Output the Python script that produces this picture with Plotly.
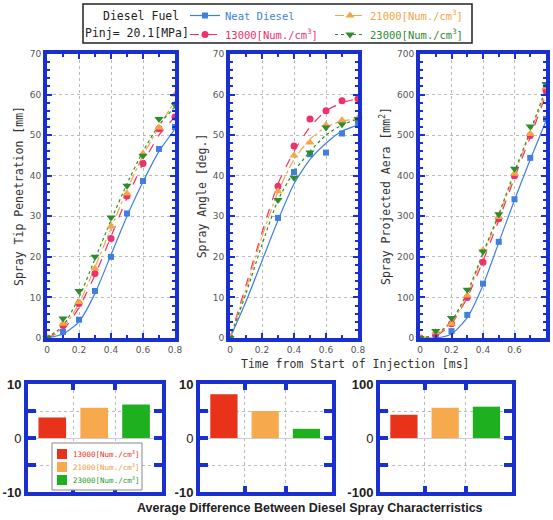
import plotly.graph_objects as go

# ---------------- data ----------------
times = [0, 0.1, 0.2, 0.3, 0.4, 0.5, 0.6, 0.7, 0.8]

series_names = ["Neat Diesel", "13000[Num./cm<sup>3</sup>]", "21000[Num./cm<sup>3</sup>]", "23000[Num./cm<sup>3</sup>]"]

# Spray tip penetration [mm]
pen_neat = [0, 1.5, 4.5, 11.6, 20.0, 30.7, 38.7, 46.6, 52.0]
pen_13000 = [0, 3.1, 8.5, 15.9, 24.5, 35.0, 43.0, 51.6, 54.5]
pen_21000 = [0, 3.5, 8.9, 17.1, 27.5, 35.6, 45.5, 51.9, 60.0]
pen_23000 = [0, 4.8, 11.6, 20.0, 29.7, 37.5, 44.9, 54.0, 57.5]
pen_fit_neat = [0, 1.0, 4.0, 11.0, 20.5, 30.0, 38.5, 46.0, 51.5]
pen_fit_13000 = [0, 2.0, 7.5, 15.5, 25.0, 34.5, 43.0, 50.0, 54.5]
pen_fit_21000 = [0, 2.5, 8.5, 17.5, 27.0, 36.5, 45.0, 52.0, 58.5]
pen_fit_23000 = [0, 3.0, 10.0, 19.5, 29.0, 38.0, 46.0, 52.5, 57.0]

# Spray angle [deg.]
angle_times = [0, 0.3, 0.4, 0.5, 0.6, 0.7, 0.8]
ang_neat = [0, 29.6, 40.9, 45.3, 45.7, 50.4, 53.0]
ang_13000 = [0, 37.4, 47.3, 54.0, 56.0, 58.5, 59.0]
ang_21000 = [0, 36.2, 45.0, 48.2, 52.5, 53.7, 54.2]
ang_23000 = [0, 34.0, 39.5, 45.7, 51.9, 52.7, 54.0]
ang_fit_neat = [0, 9, 19, 29, 38, 44, 48, 51, 52.5]
ang_fit_13000 = [0, 13, 26, 38, 46, 52, 56, 58, 59]
ang_fit_21000 = [0, 12, 25, 36, 44, 49, 52, 53.5, 54]
ang_fit_23000 = [0, 11, 23, 34, 41, 46, 50, 52.5, 54]

# Spray projected area [mm2]
area_neat = [0, 2, 17, 57, 134, 237, 342, 444, 540]
area_13000 = [0, 10, 35, 100, 187, 294, 400, 499, 610]
area_21000 = [0, 15, 35, 105, 216, 298, 405, 503, 618]
area_23000 = [0, 17, 49, 119, 213, 305, 417, 521, 626]
area_fit_neat = [0, 0, 10, 50, 130, 235, 340, 440, 535]
area_fit_13000 = [0, 5, 35, 100, 190, 290, 395, 495, 600]
area_fit_21000 = [0, 7, 38, 105, 205, 300, 405, 505, 605]
area_fit_23000 = [0, 8, 42, 112, 210, 305, 410, 510, 615]

# Average differences (bars)
bar_labels = ["13000[Num./cm<sup>3</sup>]", "21000[Num./cm<sup>3</sup>]", "23000[Num./cm<sup>3</sup>]"]
diff_pen = [3.8, 5.6, 6.2]
diff_ang = [8.1, 5.0, 1.7]
diff_area = [43, 56, 58]

# ---------------- styles ----------------
C_BLUE = "#3f7fe0"
C_RED = "#f0306a"
C_ORANGE = "#f6a545"
C_GREEN = "#2e8b2e"
BAR_COLORS = ["#e8321a", "#f7a94e", "#1fb01f"]
BAR_TEXT = ["#e8321a", "#f09a3a", "#1f9a1f"]
BORDER = "#1a2fd0"
MONO = "DejaVu Sans Mono"

marker_styles = [
    dict(symbol="square", color=C_BLUE, size=6),
    dict(symbol="circle", color=C_RED, size=7),
    dict(symbol="triangle-up", color=C_ORANGE, size=8),
    dict(symbol="triangle-down", color=C_GREEN, size=8),
]
line_styles = [
    dict(color=C_BLUE, width=1.2, dash="solid"),
    dict(color=C_RED, width=1.2, dash="dash"),
    dict(color=C_ORANGE, width=1.2, dash="dashdot"),
    dict(color=C_GREEN, width=1.2, dash="dot"),
]
text_colors = [C_BLUE, C_RED, C_ORANGE, C_GREEN]

fig = go.Figure()

panels = [
    ("x", "y", times, [pen_neat, pen_13000, pen_21000, pen_23000],
     [pen_fit_neat, pen_fit_13000, pen_fit_21000, pen_fit_23000]),
    ("x2", "y2", angle_times, [ang_neat, ang_13000, ang_21000, ang_23000],
     [ang_fit_neat, ang_fit_13000, ang_fit_21000, ang_fit_23000]),
    ("x3", "y3", times, [area_neat, area_13000, area_21000, area_23000],
     [area_fit_neat, area_fit_13000, area_fit_21000, area_fit_23000]),
]

for xa, ya, xs, ser, fits in panels:
    for i in range(4):
        fig.add_trace(go.Scatter(x=times, y=fits[i], xaxis=xa, yaxis=ya, mode="lines",
                                 line=dict(shape="spline", smoothing=0.6, **line_styles[i]),
                                 showlegend=False, hoverinfo="skip"))
    for i in range(4):
        fig.add_trace(go.Scatter(x=xs, y=ser[i], xaxis=xa, yaxis=ya, mode="markers",
                                 marker=marker_styles[i], showlegend=False, cliponaxis=False))

# legend-only entries: column 1 (Neat, 13000) in "legend", column 2 (21000, 23000) in "legend2"
for i, lg in [(0, "legend"), (1, "legend"), (2, "legend2"), (3, "legend2")]:
    fig.add_trace(go.Scatter(x=[None], y=[None], xaxis="x", yaxis="y", mode="lines+markers",
                             marker=marker_styles[i], line=line_styles[i],
                             name=f"<span style='color:{text_colors[i]}'>{series_names[i]}</span>",
                             legend=lg, showlegend=True))

# bars
bar_panels = [("x4", "y4", diff_pen), ("x5", "y5", diff_ang), ("x6", "y6", diff_area)]
for k, (xa, ya, vals) in enumerate(bar_panels):
    for i in range(3):
        fig.add_trace(go.Bar(x=[i + 1], y=[vals[i]], xaxis=xa, yaxis=ya, width=0.66,
                             marker=dict(color=BAR_COLORS[i], line=dict(width=0)),
                             name=bar_labels[i], showlegend=False))

W, H = 553, 520
def fx(a, b):
    return [a / W, b / W]
def fy(top, bottom):
    return [1 - bottom / H, 1 - top / H]
def px(v):
    return v / W
def py(v):
    return 1 - v / H

tick_font = dict(family="DejaVu Sans", size=9, color="#555555")
title_font = dict(family=MONO, size=11.5, color="#333333")

def top_axes(dom_x, dom_y, yrange, ydtick, ytitle, yminor):
    xa = dict(domain=dom_x, range=[0, 0.8], tickvals=[0, 0.2, 0.4, 0.6, 0.8],
              ticktext=["0", "0.2", "0.4", "0.6", "0.8"],
              showgrid=True, gridcolor="#bbbbbb", griddash="dot", gridwidth=1,
              showline=True, linecolor=BORDER, linewidth=4, mirror="allticks",
              ticks="inside", ticklen=5, tickwidth=2, tickcolor=BORDER,
              minor=dict(ticks="inside", ticklen=3, tickcolor=BORDER, dtick=0.1, showgrid=False),
              tickfont=tick_font, zeroline=False, automargin=False)
    ya = dict(domain=dom_y, range=yrange, dtick=ydtick,
              showgrid=True, gridcolor="#bbbbbb", griddash="dot", gridwidth=1,
              showline=True, linecolor=BORDER, linewidth=4, mirror="allticks",
              ticks="inside", ticklen=5, tickwidth=2, tickcolor=BORDER,
              minor=dict(ticks="inside", ticklen=3, tickcolor=BORDER, dtick=yminor, showgrid=False),
              tickfont=tick_font, zeroline=False, automargin=False,
              title=dict(text=ytitle, font=title_font, standoff=5))
    return xa, ya

xa1, ya1 = top_axes(fx(47, 175), fy(54, 338), [0, 70], 10, "Spray Tip Penetration [mm]", 2)
xa2, ya2 = top_axes(fx(230, 358), fy(54, 338), [0, 70], 10, "Spray Angle [deg.]", 2)
xa3, ya3 = top_axes(fx(420, 546), fy(54, 338), [0, 700], 100, "Spray Projected Aera [mm<sup>2</sup>]", 20)

bold_tick = dict(family="Liberation Sans", size=13, color="#222222")

def bot_axes(dom_x, lim):
    xa = dict(domain=dom_x, range=[0.42, 3.62], tickvals=[1.5, 2.5], ticktext=["", ""],
              showgrid=True, gridcolor="#bbbbbb", griddash="dot", gridwidth=1,
              showline=True, linecolor=BORDER, linewidth=4, mirror="allticks",
              ticks="inside", ticklen=6, tickwidth=4, tickcolor=BORDER, zeroline=False,
              automargin=False)
    ya = dict(domain=fy(384, 492), range=[-lim, lim],
              tickvals=[-lim, -lim / 2, 0, lim / 2, lim],
              ticktext=[f"<b>-{lim}</b>", "", "0", "", f"<b>{lim}</b>"],
              showgrid=True, gridcolor="#bbbbbb", griddash="dot", gridwidth=1,
              showline=True, linecolor=BORDER, linewidth=4, mirror="allticks",
              ticks="inside", ticklen=8, tickwidth=4, tickcolor=BORDER,
              zeroline=True, zerolinecolor="#cccccc", zerolinewidth=1,
              tickfont=bold_tick, automargin=False)
    return xa, ya

xa4, ya4 = bot_axes(fx(28, 162), 10)
xa5, ya5 = bot_axes(fx(200, 332), 10)
xa6, ya6 = bot_axes(fx(380, 512), 100)

shapes = [dict(type="rect", xref="paper", yref="paper",
               x0=px(83), x1=px(472), y0=py(43), y1=py(4),
               line=dict(color="#222222", width=1.5), fillcolor="rgba(0,0,0,0)", layer="below"),
          dict(type="rect", xref="paper", yref="paper",
               x0=px(52), x1=px(142), y0=py(490), y1=py(443),
               line=dict(color="#888888", width=1), fillcolor="white", layer="above")]

def ann(text, x, y, font, xanchor="center"):
    return dict(text=text, x=px(x), y=py(y), xref="paper", yref="paper",
                xanchor=xanchor, yanchor="middle", showarrow=False, font=font)

annotations = [
    ann("Diesel Fuel", 141, 16, dict(family=MONO, size=11.5, color="#222222")),
    ann("Pinj= 20.1[MPa]", 137, 33, dict(family=MONO, size=11.5, color="#222222")),
    ann("Time from Start of Injection [ms]", 355, 364, dict(family=MONO, size=11.5, color="#333333")),
    ann("<b>Average Difference Between Diesel Spray Characterristics</b>", 310, 508,
        dict(family="Liberation Sans", size=12.5, color="#222222")),
]
# manual legend for bars
for i in range(3):
    yc = 454 + 13 * i
    shapes.append(dict(type="rect", xref="paper", yref="paper",
                       x0=px(57), x1=px(67), y0=py(yc + 5), y1=py(yc - 5),
                       line=dict(width=0), fillcolor=BAR_COLORS[i], layer="above"))
    annotations.append(ann(bar_labels[i], 71, yc, dict(family=MONO, size=7.5, color=BAR_TEXT[i]),
                           xanchor="left"))

legend_common = dict(xanchor="left", yanchor="top", orientation="v",
                     font=dict(family=MONO, size=10.5), bgcolor="rgba(0,0,0,0)",
                     borderwidth=0, itemwidth=30, tracegroupgap=0)

fig.update_layout(
    width=W, height=H, margin=dict(l=0, r=0, t=0, b=0, pad=0, autoexpand=False),
    paper_bgcolor="white", plot_bgcolor="white", barmode="overlay",
    xaxis=xa1, yaxis=ya1,
    xaxis2=dict(xa2, anchor="y2"), yaxis2=dict(ya2, anchor="x2"),
    xaxis3=dict(xa3, anchor="y3"), yaxis3=dict(ya3, anchor="x3"),
    xaxis4=dict(xa4, anchor="y4"), yaxis4=dict(ya4, anchor="x4"),
    xaxis5=dict(xa5, anchor="y5"), yaxis5=dict(ya5, anchor="x5"),
    xaxis6=dict(xa6, anchor="y6"), yaxis6=dict(ya6, anchor="x6"),
    showlegend=True,
    legend=dict(legend_common, x=px(185), y=py(1)),
    legend2=dict(legend_common, x=px(330), y=py(1)),
    shapes=shapes,
    annotations=annotations,
)

fig.write_html("out.html", config={"displayModeBar": False},
               post_script="document.body.style.margin='0';document.body.style.padding='0';")
